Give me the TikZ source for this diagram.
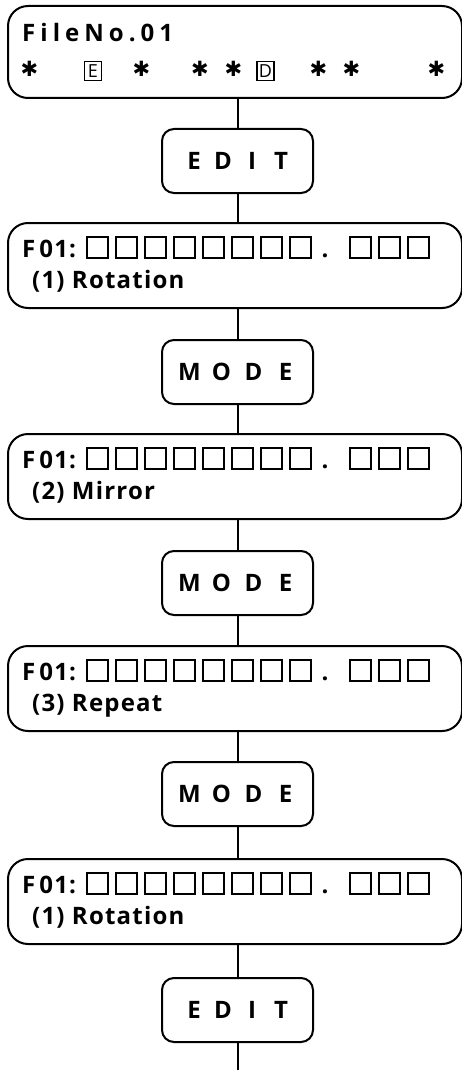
\documentclass[tikz,border=0pt]{standalone}
\usepackage{fontspec}
\setmainfont{Open Sans}
\newfontfamily\symfont{DejaVu Sans}
\tikzset{
  disp/.style={draw, line width=2pt, rounded corners=20pt, minimum width=454pt,
    minimum height=85pt, anchor=north west, inner sep=0pt},
  keybox/.style={draw, line width=2pt, rounded corners=12pt, minimum width=151pt,
    minimum height=64pt, anchor=north, inner sep=0pt,
    font=\fontsize{24}{28}\selectfont\bfseries},
  lcd/.style={anchor=base west, inner sep=0pt,
    font=\fontsize{24}{28}\selectfont\bfseries\addfontfeature{LetterSpace=5}},
  star/.style={inner sep=0pt, font=\fontsize{21}{21}\selectfont\symfont},
  boxed/.style={draw, line width=1.6pt, inner sep=0pt, minimum width=17pt,
    minimum height=19pt, font=\fontsize{18}{18}\selectfont},
  cell/.style={line width=1.3pt},
  conn/.style={line width=2pt}
}
\newcommand{\kp}[2]{\makebox[#1pt]{#2}}
\begin{document}
\begin{tikzpicture}[x=1pt,y=-1pt]
\useasboundingbox (0,0) rectangle (462,1070);
% top display
\node[disp, minimum height=92pt] (top) at (7,5) {};
\node[lcd, font=\fontsize{24}{28}\selectfont\bfseries\addfontfeature{LetterSpace=21}] (fno) at (22,42) {FileNo.01};
\node[star] (s1) at (29.5,68.5) {✱};
\node[boxed] (be) at (93,71) {E};
\node[star] (s2) at (141.5,68.5) {✱};
\node[star] (s3) at (200,68.5) {✱};
\node[star] (s4) at (233.5,68.5) {✱};
\node[boxed] (bd) at (265.5,71) {D};
\node[star] (s5) at (318.5,68.5) {✱};
\node[star] (s6) at (351.5,68.5) {✱};
\node[star] (s7) at (436.5,68.5) {✱};
% keys
\node[keybox] (edit1) at (237.5,128) {\kp{29}{E}\kp{29}{D}\kp{29}{I}\kp{29}{T}};
\node[keybox] (mode1) at (237.5,339) {\kp{32}{M}\kp{32}{O}\kp{32}{D}\kp{32}{E}};
\node[keybox] (mode2) at (237.5,550) {\kp{32}{M}\kp{32}{O}\kp{32}{D}\kp{32}{E}};
\node[keybox] (mode3) at (237.5,761) {\kp{32}{M}\kp{32}{O}\kp{32}{D}\kp{32}{E}};
\node[keybox] (edit2) at (237.5,977) {\kp{29}{E}\kp{29}{D}\kp{29}{I}\kp{29}{T}};
% display boxes
\foreach \nm/\T/\txt in {b1/222/(1) Rotation, b2/433/(2) Mirror, b3/645/(3) Repeat, b4/858/(1) Rotation}{
  \node[disp] (\nm) at (7,\T) {};
  \node[lcd] (\nm f) at (22,\T+35) {F\,01:};
  \foreach \i in {0,...,7}{
    \draw[cell] (87+\i*29,\T+15) rectangle ++(21,21);
  }
  \node[lcd, anchor=base] (\nm p) at (325,\T+35) {.};
  \foreach \i in {0,1,2}{
    \draw[cell] (350+\i*29,\T+15) rectangle ++(21,21);
  }
  \node[lcd] (\nm t) at (32,\T+66) {\txt};
}
% connectors
\coordinate (endpt) at (237.5,1070);
\draw[conn] (edit1.north) -- (edit1.north |- top.south);
\draw[conn] (edit1.south) -- (edit1.south |- b1.north);
\draw[conn] (mode1.north) -- (mode1.north |- b1.south);
\draw[conn] (mode1.south) -- (mode1.south |- b2.north);
\draw[conn] (mode2.north) -- (mode2.north |- b2.south);
\draw[conn] (mode2.south) -- (mode2.south |- b3.north);
\draw[conn] (mode3.north) -- (mode3.north |- b3.south);
\draw[conn] (mode3.south) -- (mode3.south |- b4.north);
\draw[conn] (edit2.north) -- (edit2.north |- b4.south);
\draw[conn] (edit2.south) -- (endpt);
\end{tikzpicture}
\end{document}
